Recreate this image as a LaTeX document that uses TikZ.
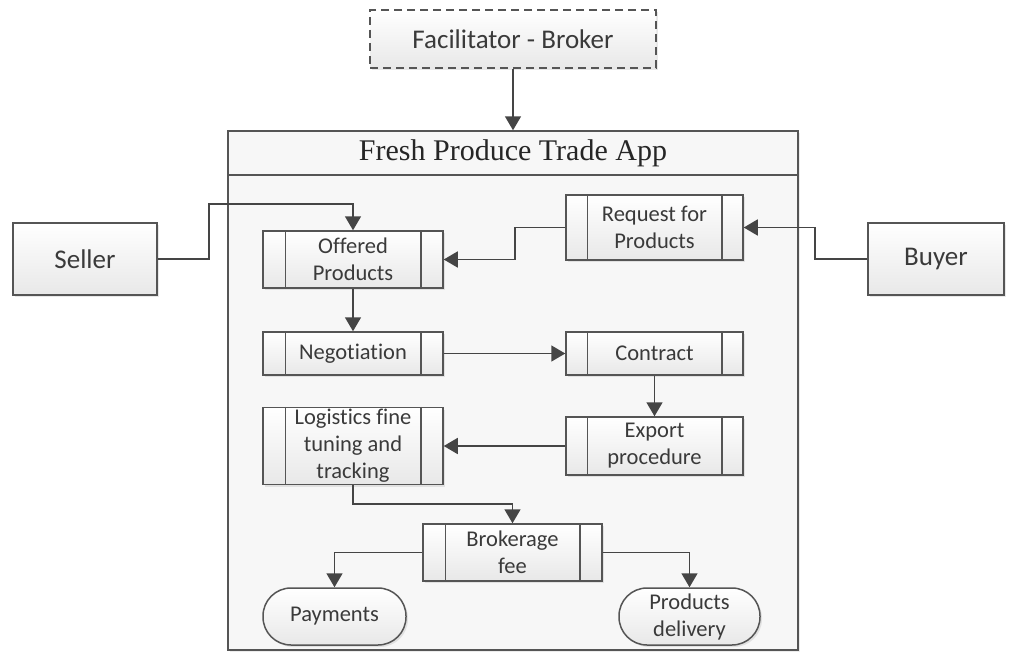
\documentclass[tikz,border=0pt]{standalone}
\usepackage{fontspec}
\setmainfont{Carlito}[Ligatures=NoCommon]
\newfontfamily\titlefont{Liberation Serif}
\usetikzlibrary{arrows.meta,shadows}
\definecolor{edge}{HTML}{555555}
\definecolor{ink}{HTML}{3A3A3A}
\definecolor{wire}{HTML}{454545}
\tikzset{
  base/.style={draw=edge, line width=1.5pt, top color=white, bottom color=black!9,
    text=ink, align=center, inner sep=0pt,
    drop shadow={opacity=0.18, shadow xshift=2pt, shadow yshift=-2pt}},
  outer/.style={base, font=\fontsize{27}{30}\selectfont},
  proc/.style={base, font=\fontsize{22.5}{27}\selectfont},
  term/.style={base, rounded corners=28pt, font=\fontsize{22.5}{27}\selectfont},
  arr/.style={draw=wire, line width=1.7pt, -{Triangle[length=14pt,width=16pt]}},
  bar/.style={draw=edge, line width=1.5pt},
}
\newcommand{\sidebars}[2]{%
  \draw[bar] ([xshift=#2]#1.north west) -- ([xshift=#2]#1.south west);
  \draw[bar] ([xshift=-#2]#1.north east) -- ([xshift=-#2]#1.south east);}
\begin{document}
\begin{tikzpicture}[x=1pt,y=-1pt]
\useasboundingbox (0,0) rectangle (1009,653);
% app container
\node[draw=edge, line width=1.5pt, fill=black!3, minimum width=570pt, minimum height=519pt, inner sep=0pt,
  drop shadow={opacity=0.15, shadow xshift=2pt, shadow yshift=-2pt}] (app) at (513,390.5) {};
\node[font=\titlefont\fontsize{30}{32}\selectfont, text=black!85] (title) at (513,153) {Fresh Produce Trade App};
\draw[bar] (app.west |- 0,175) -- (app.east |- 0,175);
% outer nodes
\node[outer, dash pattern=on 8pt off 5pt, minimum width=286pt, minimum height=58pt] (fac) at (513,39) {Facilitator - Broker};
\node[outer, minimum width=144pt, minimum height=72pt] (seller) at (85,259) {Seller};
\node[outer, minimum width=136pt, minimum height=72pt] (buyer) at (936,259) {Buyer};
% process nodes
\node[proc, minimum width=180pt, minimum height=57pt] (off) at (353,259.5) {Offered\\Products};
\node[proc, minimum width=177pt, minimum height=65pt] (req) at (654.5,227.5) {Request for\\Products};
\node[proc, minimum width=180pt, minimum height=43pt] (neg) at (353,353.5) {Negotiation};
\node[proc, minimum width=177pt, minimum height=43pt] (con) at (654.5,353.5) {Contract};
\node[proc, minimum width=177pt, minimum height=58pt] (exp) at (654.5,446) {Export\\procedure};
\node[proc, minimum width=180pt, minimum height=77pt] (log) at (353,446) {Logistics fine\\tuning and\\tracking};
\node[proc, minimum width=179pt, minimum height=57pt] (bro) at (512.5,552.5) {Brokerage\\fee};
\node[term, minimum width=143pt, minimum height=57pt] (pay) at (334.5,616.5) {Payments};
\node[term, minimum width=141pt, minimum height=57pt] (del) at (689.5,616.5) {Products\\delivery};
\sidebars{off}{23pt}
\sidebars{req}{22pt}
\sidebars{neg}{23pt}
\sidebars{con}{22pt}
\sidebars{exp}{22pt}
\sidebars{log}{23pt}
\sidebars{bro}{23pt}
% bend coordinates
\coordinate (sk) at (209,204);
\coordinate (bk) at (815,227.5);
\coordinate (rk) at (515,227.5);
\coordinate (lk) at (420,504);
% connectors
\draw[arr] (fac.south) -- (app.north);
\draw[arr] (seller.east) -| (sk) -| (off.north);
\draw[arr] (buyer.west) -| (bk) -- (req.east);
\draw[arr] (req.west) -- (rk) |- (off.east);
\draw[arr] (off.south) -- (neg.north);
\draw[arr] (neg.east) -- (con.west);
\draw[arr] (con.south) -- (exp.north);
\draw[arr] (exp.west) -- (log.east);
\draw[arr] (log.south) |- (lk) -| (bro.north);
\draw[arr] (bro.west) -| (pay.north);
\draw[arr] (bro.east) -| (del.north);
\end{tikzpicture}
\end{document}
